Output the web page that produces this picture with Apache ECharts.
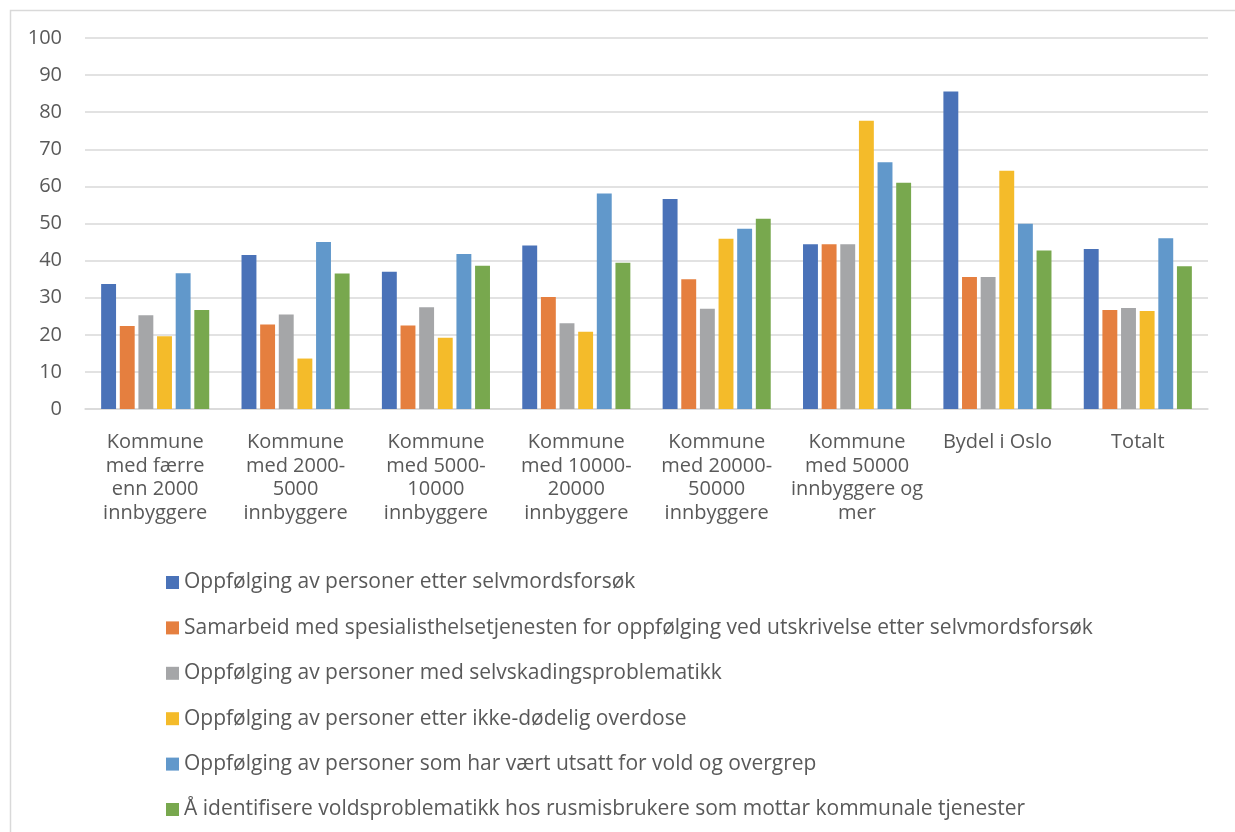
<!DOCTYPE html>
<html>
<head>
<meta charset="utf-8">
<script src="https://cdn.jsdelivr.net/npm/echarts@6/dist/echarts.min.js"></script>
<style>
  html, body { margin: 0; padding: 0; background: #fff; }
  #chart { width: 1235px; height: 832px; }
</style>
</head>
<body>
<div id="chart"></div>
<script>
const categories = [
  "Kommune\nmed færre\nenn 2000\ninnbyggere",
  "Kommune\nmed 2000-\n5000\ninnbyggere",
  "Kommune\nmed 5000-\n10000\ninnbyggere",
  "Kommune\nmed 10000-\n20000\ninnbyggere",
  "Kommune\nmed 20000-\n50000\ninnbyggere",
  "Kommune\nmed 50000\ninnbyggere og\nmer",
  "Bydel i Oslo",
  "Totalt"
];

const seriesNames = [
  "Oppfølging av personer etter selvmordsforsøk",
  "Samarbeid med spesialisthelsetjenesten for oppfølging ved utskrivelse etter selvmordsforsøk",
  "Oppfølging av personer med selvskadingsproblematikk",
  "Oppfølging av personer etter ikke-dødelig overdose",
  "Oppfølging av personer som har vært utsatt for vold og overgrep",
  "Å identifisere voldsproblematikk hos rusmisbrukere som mottar kommunale tjenester"
];

const selvmord = [33.7, 41.5, 37.0, 44.1, 56.6, 44.4, 85.6, 43.1];
const samarbeid = [22.4, 22.8, 22.5, 30.2, 35.0, 44.4, 35.6, 26.7];
const selvskading = [25.3, 25.5, 27.4, 23.1, 27.0, 44.4, 35.6, 27.2];
const overdose = [19.6, 13.6, 19.2, 20.8, 45.9, 77.7, 64.2, 26.4];
const vold = [36.6, 45.0, 41.8, 58.1, 48.6, 66.5, 49.9, 46.0];
const rusVold = [26.7, 36.5, 38.6, 39.4, 51.3, 61.0, 42.7, 38.5];

const colors = ["#4a72b8", "#e57f3f", "#a5a6a8", "#f4bb2a", "#6198cb", "#78a84e"];
const values = [selvmord, samarbeid, selvskading, overdose, vold, rusVold];

const chart = echarts.init(document.getElementById("chart"));

const option = {
  animation: false,
  textStyle: { fontFamily: "Open Sans, Liberation Sans, sans-serif" },
  graphic: [{
    type: "rect",
    left: 8, top: 8,
    shape: { width: 1240, height: 840 },
    style: { fill: "none", stroke: "#d9d9d9", lineWidth: 1.5 },
    silent: true
  }],
  grid: { left: 85, right: 27, top: 38, bottom: 423 },
  legend: {
    orient: "vertical",
    left: 166,
    top: 572,
    padding: 0,
    icon: "rect",
    itemWidth: 13,
    itemHeight: 13,
    itemGap: 24.4,
    textStyle: { color: "#595959", fontSize: 21, lineHeight: 20 },
    data: seriesNames
  },
  xAxis: {
    type: "category",
    data: categories,
    axisLine: { lineStyle: { color: "#d9d9d9", width: 1.5 } },
    axisTick: { show: false },
    axisLabel: { color: "#595959", fontSize: 20, lineHeight: 23.5, margin: 22, interval: 0 }
  },
  yAxis: {
    type: "value",
    min: 0, max: 100, interval: 10,
    axisLine: { show: false },
    axisTick: { show: false },
    splitLine: { lineStyle: { color: "#d9d9d9", width: 1.5 } },
    axisLabel: { color: "#595959", fontSize: 20, margin: 23 }
  },
  series: seriesNames.map((name, i) => ({
    name,
    type: "bar",
    data: values[i],
    barGap: "25%",
    barCategoryGap: "23%",
    itemStyle: { color: colors[i] }
  }))
};

chart.setOption(option);
window.addEventListener("resize", () => chart.resize());
</script>
</body>
</html>
